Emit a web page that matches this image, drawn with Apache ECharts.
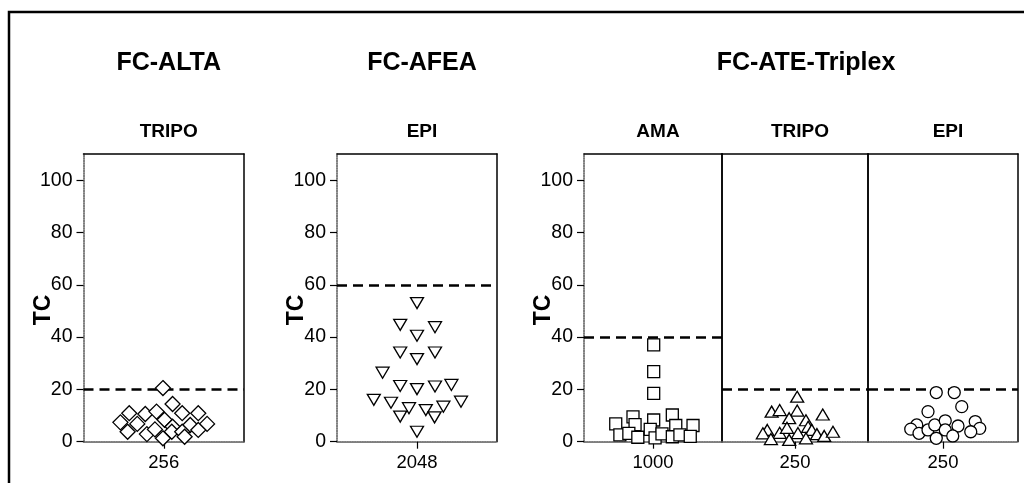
<!DOCTYPE html>
<html>
<head>
<meta charset="utf-8">
<script src="https://cdn.jsdelivr.net/npm/echarts@6/dist/echarts.min.js"></script>
<style>
html,body{margin:0;padding:0;background:#fff;}
#chart{width:1024px;height:483px;}
</style>
</head>
<body>
<div id="chart"></div>
<script>
// ---------- data ----------
const panelTitles = ['FC-ALTA', 'FC-AFEA', 'FC-ATE-Triplex'];
const subTitles = ['TRIPO', 'EPI', 'AMA', 'TRIPO', 'EPI'];
const doseLabels = ['256', '2048', '1000', '250', '250'];
const cutoffs = [20, 60, 40, 20, 20];
const yTicks = [0, 20, 40, 60, 80, 100];
const yAxisName = 'TC';

// FC-ALTA / TRIPO (diamonds)
const altaTripoX = [-0.01, 0.11, -0.43, -0.23, -0.09, 0.23, 0.43, -0.54, -0.33, 0.01, 0.11, 0.33, 0.54, -0.45, -0.21, -0.11, 0.10, 0.23, 0.43, -0.01, 0.26];
const altaTripoY = [20.5, 14.4, 10.9, 10.6, 11.5, 10.9, 10.9, 7.4, 6.8, 8.4, 5.7, 6.4, 6.8, 3.8, 2.9, 4.7, 3.8, 3.8, 4.5, 1.3, 1.9];

// FC-AFEA / EPI (inverted triangles)
const afeaEpiX = [0.0, -0.21, 0.225, 0.0, -0.21, 0.225, 0.0, -0.43, -0.21, 0.0, 0.225, 0.43, -0.54, -0.325, -0.1, 0.11, 0.33, 0.55, -0.21, 0.22, 0.0];
const afeaEpiY = [53.0, 44.7, 43.8, 40.5, 34.1, 34.1, 31.6, 26.4, 21.3, 20.1, 21.1, 21.7, 16.0, 14.9, 12.8, 12.1, 13.4, 15.3, 9.6, 9.3, 3.8];

// FC-ATE-Triplex / AMA (squares)
const ateAmaX = [0.01, 0.01, 0.01, -0.54, -0.29, 0.01, 0.28, 0.33, 0.58, -0.26, -0.48, -0.35, -0.22, -0.04, 0.03, 0.13, 0.28, 0.39, 0.54];
const ateAmaY = [37.0, 26.8, 18.5, 6.8, 9.5, 8.3, 10.2, 6.2, 6.2, 6.5, 2.6, 3.2, 1.7, 4.7, 1.5, 3.0, 1.9, 2.6, 2.0];

// FC-ATE-Triplex / TRIPO (triangles)
const ateTripoX = [0.03, -0.32, -0.21, 0.03, 0.38, -0.08, 0.15, -0.38, -0.44, -0.21, -0.11, 0.04, 0.18, 0.23, 0.30, 0.40, 0.52, -0.33, -0.08, 0.15];
const ateTripoY = [17.2, 11.5, 12.1, 11.9, 10.4, 9.0, 8.2, 4.5, 3.2, 3.4, 5.3, 3.3, 5.7, 4.5, 2.9, 2.2, 3.8, 1.0, 0.7, 1.3];

// FC-ATE-Triplex / EPI (circles)
const ateEpiX = [-0.09, 0.15, -0.2, 0.25, -0.35, -0.43, -0.32, -0.2, -0.11, 0.03, 0.03, 0.2, 0.43, 0.49, 0.37, -0.09, 0.13];
const ateEpiY = [18.8, 18.8, 11.5, 13.4, 6.4, 4.8, 3.2, 4.5, 6.4, 8.0, 4.5, 6.0, 7.7, 5.1, 3.8, 1.3, 2.2];

// ---------- layout ----------
const FONT = "'Liberation Sans', Arial, sans-serif";
const gridTop = 154, gridH = 287.7;
const grids = [
  { left: 83.5, width: 160.5 },
  { left: 337, width: 160 },
  { left: 584, width: 138 },
  { left: 722, width: 146 },
  { left: 868, width: 150 }
];
const hasYLabels = [true, true, true, false, false];
const symbols = [
  { symbol: 'diamond', size: 15, rotate: 0 },
  { symbol: 'triangle', size: [13, 11], rotate: 180 },
  { symbol: 'rect', size: 12, rotate: 0 },
  { symbol: 'triangle', size: [13, 11], rotate: 0 },
  { symbol: 'circle', size: 12, rotate: 0 }
];
const seriesX = [altaTripoX, afeaEpiX, ateAmaX, ateTripoX, ateEpiX];
const seriesY = [altaTripoY, afeaEpiY, ateAmaY, ateTripoY, ateEpiY];
const panelCenters = [
  grids[0].left + grids[0].width / 2,
  grids[1].left + grids[1].width / 2,
  (grids[2].left + grids[4].left + grids[4].width) / 2
];

const gridOpts = [], xAxes = [], yAxes = [], series = [], titles = [], graphics = [];
const greyLine = { color: '#555', width: 1.5, type: [1.5, 1] };
const blackLine = { color: '#000', width: 1.5 };

grids.forEach((g, i) => {
  gridOpts.push({ left: g.left, top: gridTop, width: g.width, height: gridH, containLabel: false });
  // bottom x axis
  xAxes.push({
    type: 'value', gridIndex: i, min: -1, max: 1, position: 'bottom',
    axisLine: { show: true, onZero: false, lineStyle: greyLine },
    axisTick: { show: true, length: 7, lineStyle: { color: '#000', width: 1.2 }, customValues: [0] },
    axisLabel: { show: true, customValues: [0], margin: 12, fontSize: 18.5, color: '#000', fontFamily: FONT,
      formatter: () => doseLabels[i] },
    splitLine: { show: false }
  });
  // top x axis (box edge)
  xAxes.push({
    type: 'value', gridIndex: i, min: -1, max: 1, position: 'top',
    axisLine: { show: true, onZero: false, lineStyle: blackLine },
    axisTick: { show: false }, axisLabel: { show: false }, splitLine: { show: false }
  });
  // left y axis
  yAxes.push({
    type: 'value', gridIndex: i, min: 0, max: 110, position: 'left',
    axisLine: { show: true, onZero: false, lineStyle: hasYLabels[i] ? greyLine : blackLine },
    axisTick: { show: hasYLabels[i], length: 7, lineStyle: { color: '#000', width: 1.2 }, customValues: yTicks },
    axisLabel: { show: hasYLabels[i], customValues: yTicks, margin: 11, fontSize: 19.5, color: '#000', fontFamily: FONT },
    splitLine: { show: false }
  });
  // right y axis (box edge)
  yAxes.push({
    type: 'value', gridIndex: i, min: 0, max: 110, position: 'right',
    axisLine: { show: true, onZero: false, lineStyle: blackLine },
    axisTick: { show: false }, axisLabel: { show: false }, splitLine: { show: false }
  });
  if (hasYLabels[i]) {
    graphics.push({
      type: 'text', silent: true, x: g.left - 40, y: 310, rotation: Math.PI / 2,
      style: { text: yAxisName, fontSize: 23, fontWeight: 'bold', fill: '#000', fontFamily: FONT,
        align: 'center', verticalAlign: 'middle' }
    });
  }
  const s = symbols[i];
  series.push({
    type: 'scatter', xAxisIndex: 2 * i, yAxisIndex: 2 * i, clip: false,
    symbol: s.symbol, symbolSize: s.size, symbolRotate: s.rotate,
    itemStyle: { color: '#fff', borderColor: '#000', borderWidth: 1.3, opacity: 1 },
    emphasis: { disabled: true },
    data: seriesX[i].map((x, k) => [x, seriesY[i][k]]),
    markLine: {
      silent: true, symbol: 'none', label: { show: false },
      lineStyle: { color: '#000', width: 2.6, type: [10, 6] },
      data: [{ yAxis: cutoffs[i] }],
      z: 1
    },
    z: 3
  });
  titles.push({
    text: subTitles[i], left: g.left + g.width / 2, top: 117, textAlign: 'center',
    textStyle: { fontSize: 19, fontWeight: 'bold', color: '#000', fontFamily: FONT }
  });
});
panelTitles.forEach((t, j) => {
  titles.push({
    text: t, left: panelCenters[j], top: 46, textAlign: 'center',
    textStyle: { fontSize: 25, fontWeight: 'bold', color: '#000', fontFamily: FONT }
  });
});
graphics.push({
  type: 'rect', silent: true, z: 100,
  shape: { x: 9, y: 12, width: 1040, height: 520 },
  style: { fill: 'none', stroke: '#000', lineWidth: 2.5 }
});

const chart = echarts.init(document.getElementById('chart'), null, { renderer: 'canvas' });
chart.setOption({
  animation: false,
  backgroundColor: '#fff',
  title: titles,
  grid: gridOpts,
  xAxis: xAxes,
  yAxis: yAxes,
  series: series,
  graphic: graphics
});
</script>
</body>
</html>
